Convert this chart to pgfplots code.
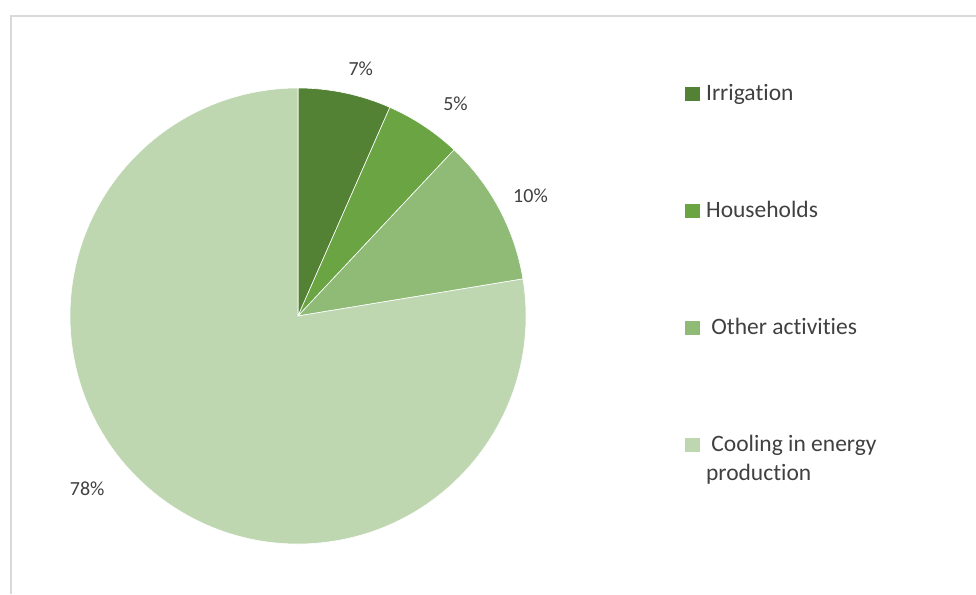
\documentclass[border=0pt]{standalone}
\usepackage{pgfplots}
\pgfplotsset{compat=1.18}
\usepackage{pgfplotstable}
\usepackage{fontspec}
\setmainfont{Carlito}[Ligatures=NoCommon]

\definecolor{irrig}{HTML}{548235}
\definecolor{house}{HTML}{6AA443}
\definecolor{other}{HTML}{8FBB77}
\definecolor{cool}{HTML}{BED7B1}
\definecolor{txt}{HTML}{404040}
\definecolor{frame}{HTML}{D9D9D9}

% shares in percent, clockwise from 12 o'clock
\pgfplotstableread{
name share
Irrigation 6.6
Households 5.4
Other 10.4
Cooling 77.6
}\piedata

\pgfplotstablegetelem{0}{share}\of\piedata \let\sA\pgfplotsretval
\pgfplotstablegetelem{1}{share}\of\piedata \let\sB\pgfplotsretval
\pgfplotstablegetelem{2}{share}\of\piedata \let\sC\pgfplotsretval
\pgfplotstablegetelem{3}{share}\of\piedata \let\sD\pgfplotsretval
\pgfmathsetmacro\aA{0}
\pgfmathsetmacro\aB{\aA+3.6*\sA}
\pgfmathsetmacro\aC{\aB+3.6*\sB}
\pgfmathsetmacro\aD{\aC+3.6*\sC}
\pgfmathsetmacro\aE{\aD+3.6*\sD}
\def\R{228}

\newcommand\slice[3]{% colour, from, to
  \fill[#1, draw=white, line width=0.6pt] (axis cs:0,0)
    -- (axis cs:{\R*sin(#2)},{\R*cos(#2)})
    arc[start angle={90-#2}, end angle={90-#3}, radius=\R pt] -- cycle;}

\begin{document}
\begin{tikzpicture}
\begin{axis}[
    x=1pt, y=1pt,
    xmin=-298, xmax=678, ymin=-278, ymax=316,
    hide axis, clip=false,
    legend cell align=left,
    legend style={
        at={(axis cs:387,233.7)}, anchor=north west,
        draw=none, fill=none, inner sep=0pt,
        row sep=95pt, column sep=7pt,
        font=\fontsize{23.5}{29}\selectfont, text=txt,
        nodes={inner sep=0pt, text height=18pt, text depth=4pt},
    },
]
\draw[frame, line width=1.5pt] (axis cs:-287.2,-278) -- (axis cs:-287.2,300.2) -- (axis cs:678,300.2);

\slice{irrig}{\aA}{\aB}
\slice{house}{\aB}{\aC}
\slice{other}{\aC}{\aD}
\slice{cool}{\aD}{\aE}

\begin{scope}[font=\fontsize{20}{24}\selectfont, text=txt]
\node at (axis cs:62.8,247.3) {7\%};
\node at (axis cs:157.5,212) {5\%};
\node at (axis cs:232.5,120.5) {10\%};
\node at (axis cs:-210.8,-173) {78\%};
\end{scope}

\addlegendimage{legend image code/.code={\fill[irrig] (0pt,-6.75pt) rectangle (13.5pt,6.75pt);}}
\addlegendentry{Irrigation}
\addlegendimage{legend image code/.code={\fill[house] (0pt,-6.75pt) rectangle (13.5pt,6.75pt);}}
\addlegendentry{Households}
\addlegendimage{legend image code/.code={\fill[other] (0pt,-6.75pt) rectangle (13.5pt,6.75pt);}}
\addlegendentry{\ Other activities}
\addlegendimage{legend image code/.code={\fill[cool] (0pt,-6.75pt) rectangle (13.5pt,6.75pt);}}
\addlegendentry{{\begin{tabular}[t]{@{}l@{}}\ Cooling in energy\\production\end{tabular}}}
\end{axis}
\pgfresetboundingbox
\useasboundingbox (current axis.south west) rectangle (current axis.north east);
\end{tikzpicture}
\end{document}
